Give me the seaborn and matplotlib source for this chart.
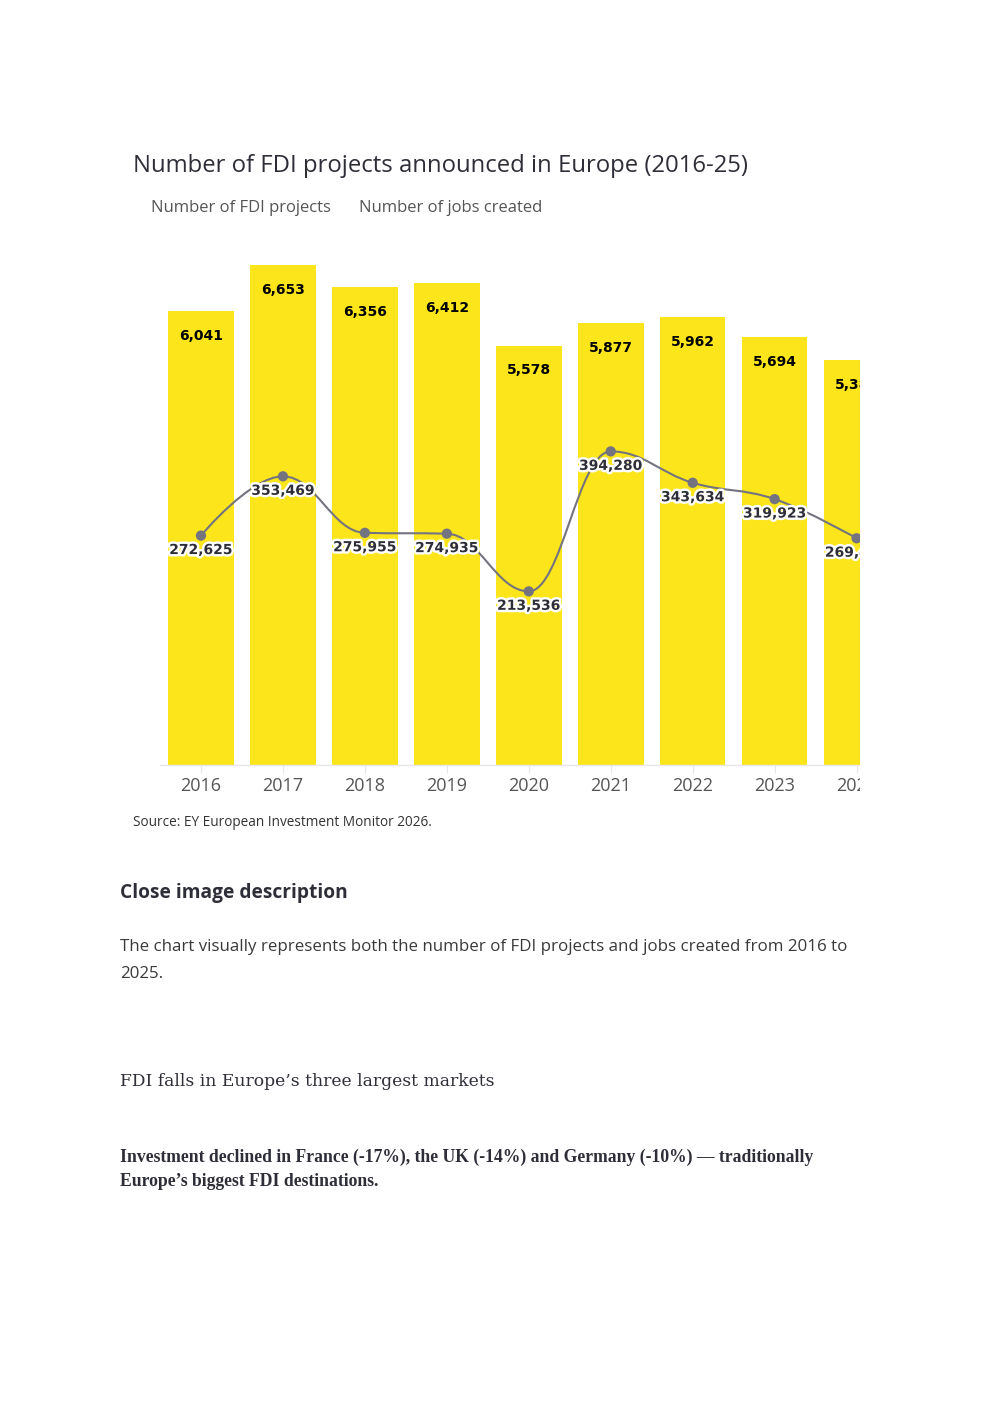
import numpy as np
import pandas as pd
import matplotlib
matplotlib.use("Agg")
import matplotlib.pyplot as plt
import matplotlib.patheffects as pe
from matplotlib.path import Path
from matplotlib.patches import PathPatch, Rectangle
import seaborn as sns

# --- dados ---
anos = ["2016", "2017", "2018", "2019", "2020", "2021", "2022", "2023", "2024"]
projetos = [6041, 6653, 6356, 6412, 5578, 5877, 5962, 5694, 5383]
empregos = [272625, 353469, 275955, 274935, 213536, 394280, 343634, 319923, 269475]

AMARELO = "#FCE51A"
CINZA = "#747480"
ESCURO = "#2e2e38"
W, H = 992, 1403

sns.set_theme(style="white")
plt.rcParams["font.family"] = ["Open Sans", "DejaVu Sans"]


def fx(x):
    return x / W


def fy(y):
    return 1 - y / H


def spline_path(xs, ys, smoothing=1.5):
    # curva suave tipo "spline" (mesma lógica dos gráficos originais), em espaço log
    n = len(xs)
    denom = smoothing + 1
    verts = [(xs[0], ys[0])]
    codes = [Path.MOVETO]
    right = [None] * n
    for i in range(1, n):
        px, py = xs[i], ys[i]
        lx, ly = xs[i - 1], ys[i - 1]
        rc = None
        if i < n - 1:
            nx, ny = xs[i + 1], ys[i + 1]
            lcx = (smoothing * px + lx) / denom
            lcy = (smoothing * py + ly) / denom
            rcx = (smoothing * px + nx) / denom
            rcy = (smoothing * py + ny) / denom
            corr = (rcy - lcy) * (rcx - px) / (rcx - lcx) + py - rcy
            lcy += corr
            rcy += corr
            if lcy > ly and lcy > py:
                lcy = max(ly, py)
                rcy = 2 * py - lcy
            elif lcy < ly and lcy < py:
                lcy = min(ly, py)
                rcy = 2 * py - lcy
            if rcy > ny and rcy > py:
                rcy = max(ny, py)
                lcy = 2 * py - rcy
            elif rcy < ny and rcy < py:
                rcy = min(ny, py)
                lcy = 2 * py - rcy
            rc = (rcx, rcy)
        else:
            lcx, lcy = px, py
        prev = right[i - 1] if right[i - 1] is not None else (lx, ly)
        verts += [prev, (lcx, lcy), (px, py)]
        codes += [Path.CURVE4] * 3
        right[i] = rc
    verts = [(vx, 10 ** vy) for vx, vy in verts]
    return Path(verts, codes)


df = pd.DataFrame({"ano": anos, "projetos": projetos, "empregos": empregos})

fig = plt.figure(figsize=(W / 100, H / 100), dpi=100)
ax = fig.add_axes([fx(160), fy(764.5), fx(9 * 81.95), 525.5 / H])

sns.barplot(data=df, x="ano", y="projetos", color=AMARELO, saturation=1,
            width=0.8, ax=ax, zorder=2)
for p in ax.patches:
    p.set_edgecolor("none")
ax.set_ylim(0, 7000)
ax.set_xlim(-0.5, 8.5)
ax.set_xlabel("")
ax.set_ylabel("")
ax.set_yticks([])
for s in ["top", "left", "right"]:
    ax.spines[s].set_visible(False)
ax.spines["bottom"].set_color("#e6e6e6")
ax.spines["bottom"].set_linewidth(1)
ax.tick_params(axis="x", bottom=True, length=5.8, width=0.8, color="#e6e6e6",
               labelsize=13, labelcolor="#555555", pad=3)

for i, v in enumerate(projetos):
    ax.annotate(f"{v:,}", (i, v), xytext=(0, -17.8), textcoords="offset points",
                ha="center", va="center", fontsize=10, fontweight="bold",
                color="black", family=["DejaVu Sans"], zorder=5)

# --- eixo secundário: empregos (escala log) ---
ax2 = ax.twinx()
ax2.set_yscale("log")
ax2.set_ylim(1e5, 1e6)
ax2.set_yticks([])
ax2.yaxis.set_minor_locator(matplotlib.ticker.NullLocator())
for s in ax2.spines.values():
    s.set_visible(False)

xs = np.arange(len(anos))
curva = spline_path(xs, np.log10(empregos))
ax2.add_patch(PathPatch(curva, facecolor="none", edgecolor=CINZA, lw=1.5, zorder=3))
sns.scatterplot(x=xs, y=empregos, color=CINZA, s=55, edgecolor="none", ax=ax2, zorder=4)
ax2.set_xlim(-0.5, 8.5)

for i, v in enumerate(empregos):
    ax2.annotate(f"{v:,}", (i, v), xytext=(0, -10.4), textcoords="offset points",
                 ha="center", va="center", fontsize=10, fontweight="bold",
                 color=ESCURO, family=["DejaVu Sans"], zorder=6,
                 path_effects=[pe.withStroke(linewidth=3.5, foreground="white")])

# recorte à direita (o gráfico original está cortado)
fig.add_artist(Rectangle((fx(860), fy(800)), 1, 570 / H, transform=fig.transFigure,
                         facecolor="white", edgecolor="none", zorder=20))

# --- textos ---
fig.text(fx(133), fy(166), "Number of FDI projects announced in Europe (2016-25)",
         fontsize=17.2, color=ESCURO, va="center", ha="left")
fig.text(fx(151), fy(208), "Number of FDI projects", fontsize=12, color="#555555",
         va="center", ha="left")
fig.text(fx(359), fy(208), "Number of jobs created", fontsize=12, color="#555555",
         va="center", ha="left")
fig.text(fx(133), fy(822), "Source: EY European Investment Monitor 2026.",
         fontsize=9.8, color="#333333", va="center", ha="left")

fig.text(fx(120), fy(893), "Close image description", fontsize=13.8,
         fontweight="bold", color=ESCURO, va="center", ha="left")
fig.text(fx(120), fy(947),
         "The chart visually represents both the number of FDI projects and jobs created from 2016 to",
         fontsize=12.2, color="#3a3a3a", va="center", ha="left")
fig.text(fx(120), fy(974), "2025.", fontsize=12.2,
         color="#3a3a3a", va="center", ha="left")

fig.text(fx(120), fy(1081), "FDI falls in Europe’s three largest markets",
         fontsize=12.3, color=ESCURO, va="center", ha="left",
         family=["DejaVu Serif"])
fig.text(fx(120), fy(1157),
         "Investment declined in France (-17%), the UK (-14%) and Germany (-10%) — traditionally",
         fontsize=12.7, fontweight="bold", color=ESCURO, va="center", ha="left",
         family=["Liberation Serif", "DejaVu Serif"])
fig.text(fx(120), fy(1182), "Europe’s biggest FDI destinations.",
         fontsize=12.7, fontweight="bold", color=ESCURO, va="center", ha="left",
         family=["Liberation Serif", "DejaVu Serif"])

fig.savefig("out.png", dpi=100)
plt.close(fig)
